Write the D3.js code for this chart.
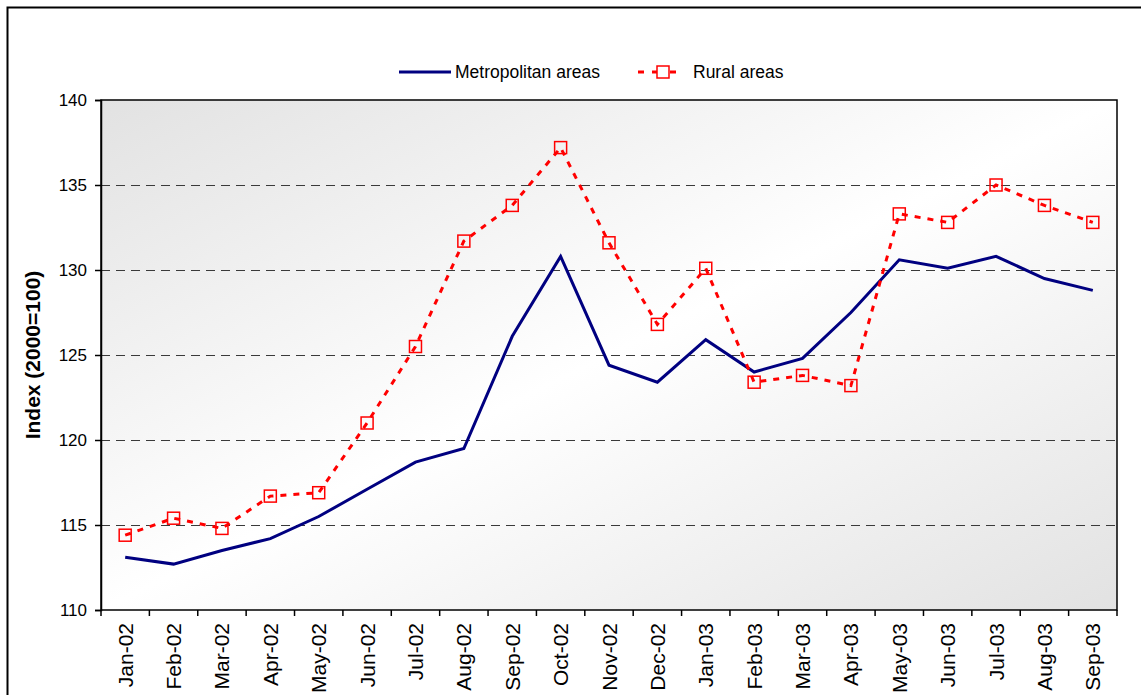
<!DOCTYPE html>
<html lang="en">
<head>
<meta charset="UTF-8">
<script src="https://cdn.jsdelivr.net/npm/d3@7"></script>
<style>
    body { margin: 0; background: white; }
    svg text { font-family: "Liberation Sans", Arial, sans-serif; }
</style>
</head>
<body>
<script>
// data
const months = ["Jan-02","Feb-02","Mar-02","Apr-02","May-02","Jun-02","Jul-02","Aug-02","Sep-02","Oct-02","Nov-02","Dec-02",
                "Jan-03","Feb-03","Mar-03","Apr-03","May-03","Jun-03","Jul-03","Aug-03","Sep-03"];
const metro = [113.1,112.7,113.5,114.2,115.5,117.1,118.7,119.5,126.1,130.8,124.4,123.4,
               125.9,124.0,124.8,127.5,130.6,130.1,130.8,129.5,128.8];
const rural = [114.4,115.4,114.8,116.7,116.9,121.0,125.5,131.7,133.8,137.2,131.6,126.8,
               130.1,123.4,123.8,123.2,133.3,132.8,135.0,133.8,132.8];
const yTicks = [110,115,120,125,130,135,140];

const W = 1141, H = 695;
const plot = {left: 101, right: 1117, top: 100, bottom: 610};

const svg = d3.select("body").append("svg")
    .attr("width", W).attr("height", H);

// outer chart border
svg.append("rect")
    .attr("x", 7.5).attr("y", 7.5)
    .attr("width", W + 20).attr("height", H + 20)
    .attr("fill", "white").attr("stroke", "black").attr("stroke-width", 2);

// plot area gradient: grey corners, white diagonal band
const defs = svg.append("defs");
const grad = defs.append("linearGradient").attr("id", "bg")
    .attr("x1", "0").attr("y1", "0").attr("x2", "1").attr("y2", "1");
grad.append("stop").attr("offset", "0%").attr("stop-color", "#e2e2e2");
grad.append("stop").attr("offset", "50%").attr("stop-color", "#ffffff");
grad.append("stop").attr("offset", "100%").attr("stop-color", "#e2e2e2");

const x = d3.scaleBand().domain(months).range([plot.left, plot.right]);
const y = d3.scaleLinear().domain([110, 140]).range([plot.bottom, plot.top]);

svg.append("rect")
    .attr("x", plot.left).attr("y", plot.top)
    .attr("width", plot.right - plot.left).attr("height", plot.bottom - plot.top)
    .attr("fill", "url(#bg)");

// dashed gridlines
svg.append("g").selectAll("line")
    .data(yTicks.filter(d => d > 110 && d < 140))
    .join("line")
    .attr("x1", plot.left).attr("x2", plot.right)
    .attr("y1", d => y(d) + 0.5).attr("y2", d => y(d) + 0.5)
    .attr("stroke", "#3a3a3a").attr("stroke-width", 1)
    .attr("stroke-dasharray", "9,6");

svg.append("rect")
    .attr("x", plot.left).attr("y", plot.top)
    .attr("width", plot.right - plot.left).attr("height", plot.bottom - plot.top)
    .attr("fill", "none").attr("stroke", "black").attr("stroke-width", 1.5);

// y axis
const yAxis = svg.append("g")
    .attr("transform", `translate(${plot.left},0)`)
    .call(d3.axisLeft(y).tickValues(yTicks).tickSize(6).tickPadding(8));
yAxis.select(".domain").attr("stroke", "black").attr("stroke-width", 1.5);
yAxis.selectAll("line").attr("stroke-width", 1.5);
yAxis.selectAll("text").attr("font-size", 17).attr("fill", "black");

// x axis: ticks at category boundaries
const xAxis = svg.append("g")
    .attr("transform", `translate(0,${plot.bottom})`);
const bounds = months.map(m => x(m)).concat([plot.right]);
xAxis.selectAll("line")
    .data(bounds)
    .join("line")
    .attr("x1", d => d).attr("x2", d => d)
    .attr("y1", 0).attr("y2", 6)
    .attr("stroke", "black").attr("stroke-width", 1.5);
xAxis.selectAll("text")
    .data(months)
    .join("text")
    .attr("transform", d => `translate(${x(d) + x.bandwidth() / 2 + 7.5},13) rotate(-90)`)
    .attr("text-anchor", "end")
    .attr("font-size", 21)
    .text(d => d);

// y title
svg.append("text")
    .attr("transform", `translate(40,${(plot.top + plot.bottom) / 2}) rotate(-90)`)
    .attr("text-anchor", "middle")
    .attr("font-size", 21).attr("font-weight", "bold")
    .text("Index (2000=100)");

const cx = d => x(d) + x.bandwidth() / 2;

// metropolitan line
svg.append("path")
    .datum(months.map((m, i) => [cx(m), y(metro[i])]))
    .attr("d", d3.line())
    .attr("fill", "none").attr("stroke", "#000080").attr("stroke-width", 3);

// rural line (dashed + squares)
svg.append("path")
    .datum(months.map((m, i) => [cx(m), y(rural[i])]))
    .attr("d", d3.line())
    .attr("fill", "none").attr("stroke", "#ff0000").attr("stroke-width", 3)
    .attr("stroke-dasharray", "6,7");
svg.append("g").selectAll("rect")
    .data(months)
    .join("rect")
    .attr("x", (d) => cx(d) - 6)
    .attr("y", (d, i) => y(rural[i]) - 6)
    .attr("width", 12).attr("height", 12)
    .attr("fill", "none").attr("stroke", "#ff0000").attr("stroke-width", 1.5);

// legend
const leg = svg.append("g");
leg.append("line").attr("x1", 399).attr("x2", 451).attr("y1", 72).attr("y2", 72)
    .attr("stroke", "#000080").attr("stroke-width", 3);
leg.append("text").attr("x", 455).attr("y", 78).attr("font-size", 17.5).text("Metropolitan areas");
[[638, 644], [652, 657], [670, 676]].forEach(s => {
    leg.append("line").attr("x1", s[0]).attr("x2", s[1]).attr("y1", 72).attr("y2", 72)
        .attr("stroke", "#ff0000").attr("stroke-width", 3);
});
leg.append("rect").attr("x", 663 - 6).attr("y", 72 - 6).attr("width", 12).attr("height", 12)
    .attr("fill", "white").attr("stroke", "#ff0000").attr("stroke-width", 1.5);
leg.append("text").attr("x", 693).attr("y", 78).attr("font-size", 17.5).text("Rural areas");
</script>
</body>
</html>
